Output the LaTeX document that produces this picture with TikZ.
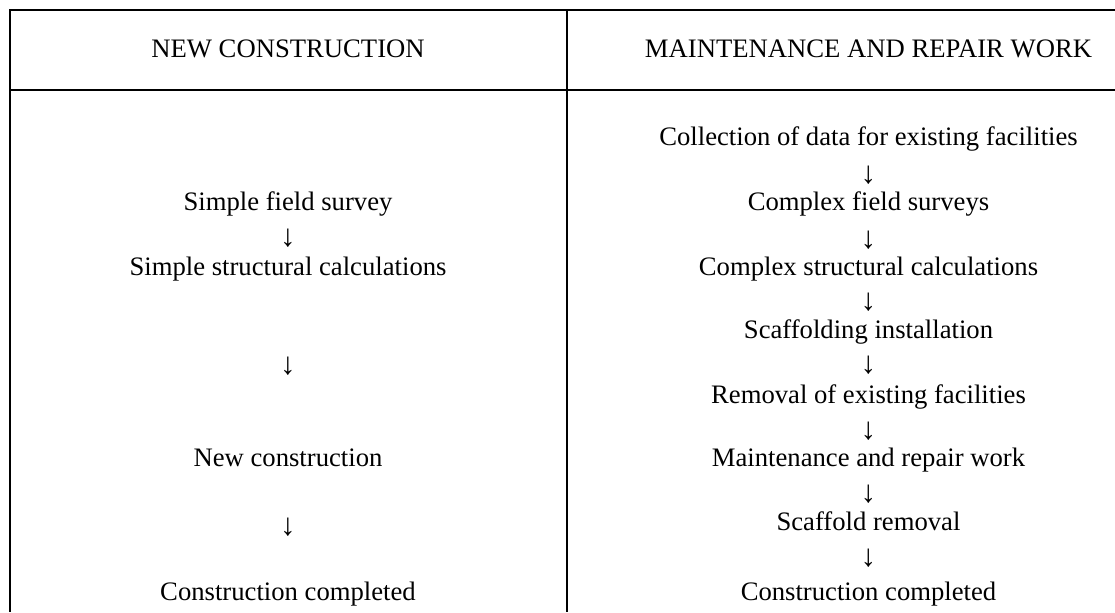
\documentclass[tikz,border=0pt]{standalone}
\usepackage{fontspec}
\setmainfont{Liberation Serif}
\usetikzlibrary{calc}
\definecolor{rahmen}{RGB}{0,0,0}
\tikzset{
    eintrag/.style={anchor=base, inner sep=0pt, font=\fontsize{12pt}{14.4pt}\selectfont},
    pfeilzeichen/.style={anchor=center, inner sep=0pt, font=\fontsize{14pt}{16.8pt}\selectfont}
}

\begin{document}
\begin{tikzpicture}[x=0.45pt, y=-0.45pt, rahmen]

    \useasboundingbox (0,0) rectangle (1115,612);

    % table frame
    \draw[line width=0.9pt] (1115,9.5) -- (9.5,9.5) -- (9.5,612);
    \draw[line width=0.9pt] (9.5,89.5) -- (1115,89.5);
    \draw[line width=0.9pt] (567,9.5) -- (567,612);

    % headers
    \node[eintrag] (kopfneu) at (288,57) {NEW CONSTRUCTION};
    \node[eintrag] (kopfrep) at (868.5,57) {MAINTENANCE AND REPAIR WORK};

    % left column
    \node[eintrag] (neu1) at (288,210) {Simple field survey};
    \node[pfeilzeichen] (neup1) at (288,238) {↓};
    \node[eintrag] (neu2) at (288,275) {Simple structural calculations};
    \node[pfeilzeichen] (neup2) at (288,366) {↓};
    \node[eintrag] (neu3) at (288,466) {New construction};
    \node[pfeilzeichen] (neup3) at (288,527) {↓};
    \node[eintrag] (neu4) at (288,600) {Construction completed};

    % right column
    \node[eintrag] (rep1) at (868.5,145) {Collection of data for existing facilities};
    \node[pfeilzeichen] (repp1) at (868.5,175) {↓};
    \node[eintrag] (rep2) at (868.5,210) {Complex field surveys};
    \node[pfeilzeichen] (repp2) at (868.5,240) {↓};
    \node[eintrag] (rep3) at (868.5,275) {Complex structural calculations};
    \node[pfeilzeichen] (repp3) at (868.5,302) {↓};
    \node[eintrag] (rep4) at (868.5,338) {Scaffolding installation};
    \node[pfeilzeichen] (repp4) at (868.5,365) {↓};
    \node[eintrag] (rep5) at (868.5,403) {Removal of existing facilities};
    \node[pfeilzeichen] (repp5) at (868.5,431) {↓};
    \node[eintrag] (rep6) at (868.5,466) {Maintenance and repair work};
    \node[pfeilzeichen] (repp6) at (868.5,494) {↓};
    \node[eintrag] (rep7) at (868.5,530) {Scaffold removal};
    \node[pfeilzeichen] (repp7) at (868.5,558) {↓};
    \node[eintrag] (rep8) at (868.5,600) {Construction completed};

\end{tikzpicture}
\end{document}
